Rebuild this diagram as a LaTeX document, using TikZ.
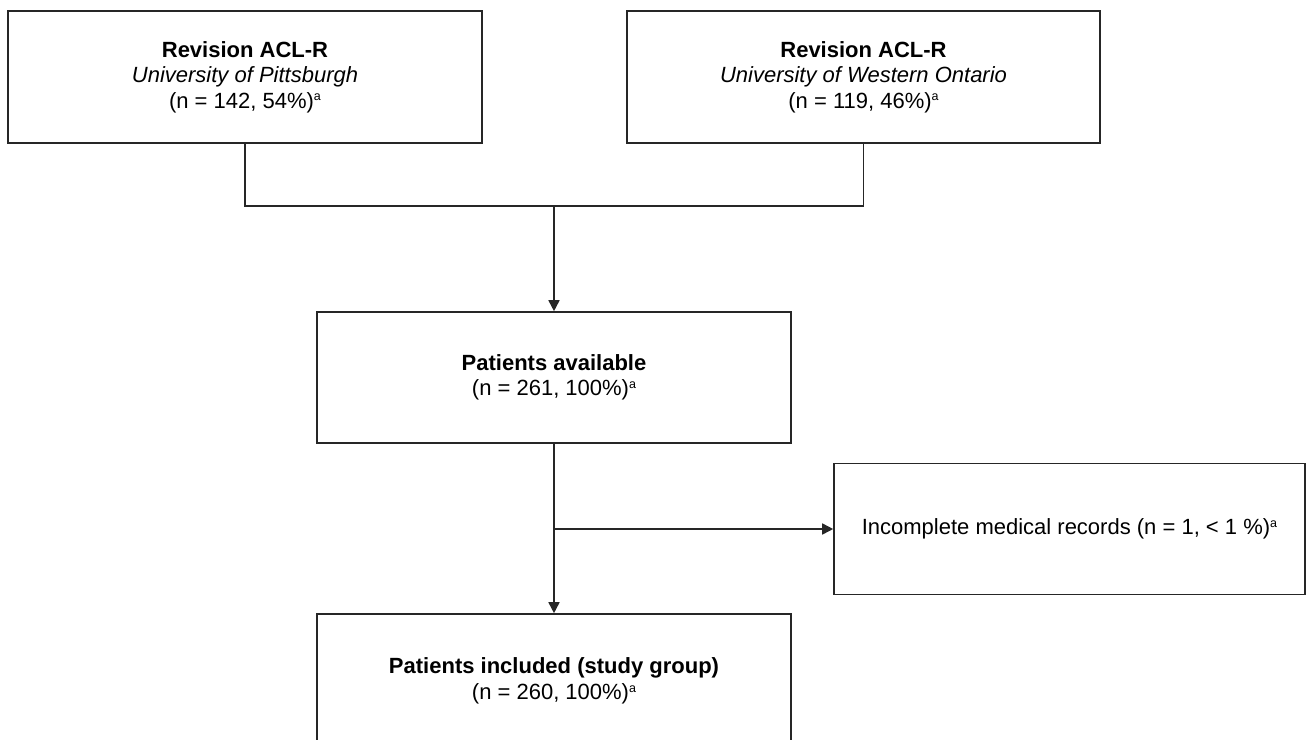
\documentclass[tikz,border=0pt]{standalone}
\usepackage{fontspec}
\setmainfont{Liberation Sans}
\usetikzlibrary{arrows.meta}
\newcommand\supa{\raisebox{0.62ex}{\fontsize{12.5}{12.5}\selectfont a}}
\begin{document}
\begin{tikzpicture}[x=1pt,y=-1pt,
  flowbox/.style={draw=black!85, line width=1.6pt, rectangle, inner sep=0pt,
    align=center, font=\fontsize{22}{25.5}\selectfont, text=black},
  conn/.style={draw=black!85, line width=1.6pt},
  arr/.style={conn, -{Triangle[length=11pt,width=11pt]}}]
\useasboundingbox (0,0) rectangle (1306,739);
\node[flowbox, minimum width=474pt, minimum height=132pt] (b1) at (245,77)
  {\textbf{Revision ACL-R}\\ \textit{University of Pittsburgh}\\ (n = 142, 54\%)\supa};
\node[flowbox, minimum width=473pt, minimum height=132pt] (b2) at (863.5,77)
  {\textbf{Revision ACL-R}\\ \textit{University of Western Ontario}\\ (n = 119, 46\%)\supa};
\node[flowbox, minimum width=474pt, minimum height=131pt] (b3) at (554,377.5)
  {\textbf{Patients available}\\ (n = 261, 100\%)\supa};
\node[flowbox, minimum width=471pt, minimum height=131pt] (b5) at (1069.5,529)
  {Incomplete medical records (n = 1, < 1 \%)\supa};
\node[flowbox, minimum width=474pt, minimum height=134pt] (b4) at (554,681)
  {\textbf{Patients included (study group)}\\ (n = 260, 100\%)\supa};
\coordinate (j) at (554,206);
\coordinate (k) at (554,529);
\draw[conn] (b1.south) |- (j) -| (b2.south);
\draw[arr] (j) -- (b3.north);
\draw[arr] (b3.south) -- (b4.north);
\draw[arr] (k) -- (b5.west);
\end{tikzpicture}
\end{document}
